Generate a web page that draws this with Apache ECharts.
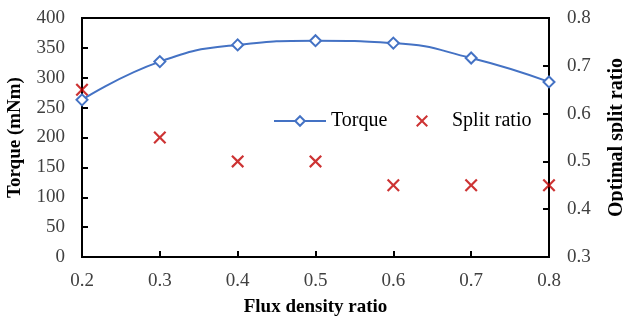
<!DOCTYPE html>
<html>
<head>
<meta charset="utf-8">
<script src="https://cdn.jsdelivr.net/npm/echarts@6/dist/echarts.min.js"></script>
<style>
  html, body { margin: 0; padding: 0; background: #fff; }
  #chart { width: 623px; height: 320px; }
</style>
</head>
<body>
<div id="chart"></div>
<script>
// data
const fluxRatio = [0.2, 0.3, 0.4, 0.5, 0.6, 0.7, 0.8];
const torque = [263, 327, 355, 362, 358, 333, 293];
const splitRatio = [0.65, 0.55, 0.5, 0.5, 0.45, 0.45, 0.45];

const font = '"Liberation Serif", "Times New Roman", serif';
const crossPath = 'path://M0,1.2L1.2,0L5,3.8L8.8,0L10,1.2L6.2,5L10,8.8L8.8,10L5,6.2L1.2,10L0,8.8L3.8,5Z';

const chart = echarts.init(document.getElementById('chart'));

const axisLine = { show: true, lineStyle: { color: '#000', width: 2 } };
const axisTick = { show: true, inside: true, length: 6, lineStyle: { color: '#000', width: 2 } };
const axisLabel = { color: '#404040', fontFamily: font, fontSize: 19 };
const nameStyle = { color: '#000', fontFamily: font, fontSize: 19, fontWeight: 'bold' };
const legendText = { color: '#000', fontFamily: font, fontSize: 20 };

chart.setOption({
  animation: false,
  backgroundColor: '#fff',
  grid: {
    left: 82, right: 74, top: 18, bottom: 63,
    outerBoundsMode: 'none',
    show: true, borderColor: '#000', borderWidth: 2
  },
  legend: [
    {
      left: 268,
      top: 106,
      itemWidth: 52,
      itemHeight: 12,
      textStyle: legendText,
      data: ['Torque']
    },
    {
      left: 411,
      top: 106,
      itemWidth: 12,
      itemHeight: 12,
      textStyle: Object.assign({ padding: [0, 0, 0, 19] }, legendText),
      data: [{ name: 'Split ratio', icon: crossPath, itemStyle: { color: '#c00000' } }]
    }
  ],
  xAxis: {
    type: 'value',
    min: 0.2,
    max: 0.8,
    interval: 0.1,
    name: 'Flux density ratio',
    nameLocation: 'middle',
    nameGap: 41,
    nameTextStyle: nameStyle,
    axisLine: axisLine,
    axisTick: axisTick,
    splitLine: { show: false },
    axisLabel: Object.assign({ margin: 15, formatter: v => v.toFixed(1) }, axisLabel)
  },
  yAxis: [
    {
      type: 'value',
      min: 0,
      max: 400,
      interval: 50,
      name: 'Torque (mNm)',
      nameLocation: 'middle',
      nameGap: 57,
      nameTextStyle: nameStyle,
      axisLine: axisLine,
      axisTick: axisTick,
      splitLine: { show: false },
      axisLabel: Object.assign({ margin: 17 }, axisLabel)
    },
    {
      type: 'value',
      position: 'right',
      min: 0.3,
      max: 0.8,
      interval: 0.1,
      name: 'Optimal split ratio',
      nameLocation: 'middle',
      nameGap: 58,
      nameRotate: 90,
      nameTextStyle: Object.assign({}, nameStyle, { fontSize: 20 }),
      axisLine: axisLine,
      axisTick: axisTick,
      splitLine: { show: false },
      axisLabel: Object.assign({ margin: 18, formatter: v => v.toFixed(1) }, axisLabel)
    }
  ],
  series: [
    {
      name: 'Torque',
      type: 'line',
      yAxisIndex: 0,
      smooth: true,
      symbol: 'diamond',
      symbolSize: 11,
      showAllSymbol: true,
      lineStyle: { color: '#4472c4', width: 2 },
      itemStyle: { color: '#fff', borderColor: '#4472c4', borderWidth: 2 },
      data: fluxRatio.map((x, i) => [x, torque[i]])
    },
    {
      name: 'Split ratio',
      type: 'scatter',
      yAxisIndex: 1,
      symbol: crossPath,
      symbolSize: 13,
      itemStyle: { color: '#c00000' },
      data: fluxRatio.map((x, i) => [x, splitRatio[i]])
    }
  ]
});
</script>
</body>
</html>
